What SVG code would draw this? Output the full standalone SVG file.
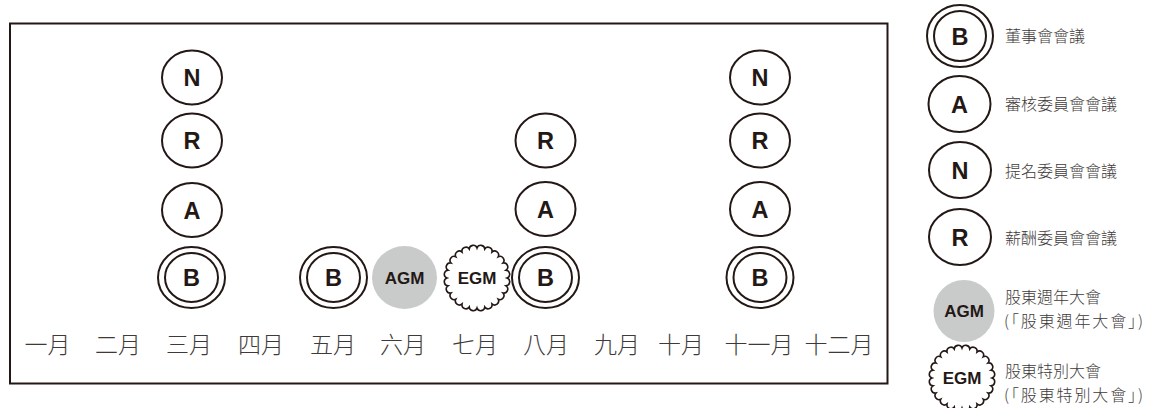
<svg xmlns="http://www.w3.org/2000/svg" xmlns:xlink="http://www.w3.org/1999/xlink" width="1154" height="408" viewBox="0 0 1154 408">
<style>
.c{fill:#fff;stroke:#231815;stroke-width:2}
.agm{fill:#c9caca;stroke:none}
.egm{fill:#fff;stroke:#231815;stroke-width:1.6}
.l{font-family:"Liberation Sans",Arial,sans-serif;font-weight:bold;font-size:23.5px;fill:#231815;text-anchor:middle}
.s{font-family:"Liberation Sans",Arial,sans-serif;font-weight:bold;font-size:17px;fill:#231815;text-anchor:middle}
.m{font-family:"Noto Sans CJK TC","Noto Sans CJK SC",sans-serif;font-weight:300;font-size:23px;fill:#3e3a39;text-anchor:middle}
.t{font-family:"Noto Sans CJK TC","Noto Sans CJK SC",sans-serif;font-weight:300;font-size:16px;fill:#3e3a39}
</style>
<defs>
<path id="scal" d="M30,0 A4,4 0 0 1 28.98,7.76 A4,4 0 0 1 25.98,15 A4,4 0 0 1 21.21,21.21 A4,4 0 0 1 15,25.98 A4,4 0 0 1 7.76,28.98 A4,4 0 0 1 0,30 A4,4 0 0 1 -7.76,28.98 A4,4 0 0 1 -15,25.98 A4,4 0 0 1 -21.21,21.21 A4,4 0 0 1 -25.98,15 A4,4 0 0 1 -28.98,7.76 A4,4 0 0 1 -30,0 A4,4 0 0 1 -28.98,-7.76 A4,4 0 0 1 -25.98,-15 A4,4 0 0 1 -21.21,-21.21 A4,4 0 0 1 -15,-25.98 A4,4 0 0 1 -7.76,-28.98 A4,4 0 0 1 0,-30 A4,4 0 0 1 7.76,-28.98 A4,4 0 0 1 15,-25.98 A4,4 0 0 1 21.21,-21.21 A4,4 0 0 1 25.98,-15 A4,4 0 0 1 28.98,-7.76 A4,4 0 0 1 30,0 Z"/>
</defs>
<rect x="0" y="0" width="1154" height="408" fill="#fff"/>
<rect id="frame" x="10" y="23.5" width="877.5" height="360" fill="none" stroke="#231815" stroke-width="2"/>
<g id="connectors"></g>
<g id="months">
<text class="m" x="47.5" y="353">一月</text>
<text class="m" x="118" y="353">二月</text>
<text class="m" x="189" y="353">三月</text>
<text class="m" x="261" y="353">四月</text>
<text class="m" x="333" y="353">五月</text>
<text class="m" x="403" y="353">六月</text>
<text class="m" x="475" y="353">七月</text>
<text class="m" x="546" y="353">八月</text>
<text class="m" x="617" y="353">九月</text>
<text class="m" x="681" y="353">十月</text>
<text class="m" x="759" y="353">十一月</text>
<text class="m" x="839" y="353">十二月</text>
</g>
<g id="mar-N"><ellipse class="c" cx="192" cy="77.5" rx="30" ry="27"/><text class="l" x="192" y="86">N</text></g>
<g id="mar-R"><ellipse class="c" cx="192" cy="140.5" rx="30" ry="27"/><text class="l" x="192" y="149">R</text></g>
<g id="mar-A"><ellipse class="c" cx="192" cy="210" rx="30" ry="27"/><text class="l" x="192" y="218.5">A</text></g>
<g id="mar-B"><ellipse class="c" cx="191.5" cy="277.5" rx="33.5" ry="30.5"/><ellipse class="c" cx="191.5" cy="277.5" rx="26.5" ry="24.5"/><text class="l" x="191.5" y="286">B</text></g>
<g id="may-B"><ellipse class="c" cx="333.5" cy="277.5" rx="33.5" ry="30.5"/><ellipse class="c" cx="333.5" cy="277.5" rx="26.5" ry="24.5"/><text class="l" x="333.5" y="286">B</text></g>
<g id="jun-AGM"><ellipse class="agm" cx="404.5" cy="277.5" rx="32.5" ry="31.5"/><text class="s" x="404.5" y="283.5">AGM</text></g>
<g id="jul-EGM"><use xlink:href="#scal" class="egm" transform="translate(477,278)"/><text class="s" x="477" y="284">EGM</text></g>
<g id="aug-R"><ellipse class="c" cx="545.5" cy="140.5" rx="30" ry="27"/><text class="l" x="545.5" y="149">R</text></g>
<g id="aug-A"><ellipse class="c" cx="545.5" cy="209" rx="30" ry="27"/><text class="l" x="545.5" y="217.5">A</text></g>
<g id="aug-B"><ellipse class="c" cx="545.5" cy="277.5" rx="33.5" ry="30.5"/><ellipse class="c" cx="545.5" cy="277.5" rx="26.5" ry="24.5"/><text class="l" x="545.5" y="286">B</text></g>
<g id="nov-N"><ellipse class="c" cx="760" cy="77.5" rx="30" ry="27"/><text class="l" x="760" y="86">N</text></g>
<g id="nov-R"><ellipse class="c" cx="760" cy="140.5" rx="30" ry="27"/><text class="l" x="760" y="149">R</text></g>
<g id="nov-A"><ellipse class="c" cx="760" cy="209" rx="30" ry="27"/><text class="l" x="760" y="217.5">A</text></g>
<g id="nov-B"><ellipse class="c" cx="760" cy="277.5" rx="33.5" ry="30.5"/><ellipse class="c" cx="760" cy="277.5" rx="26.5" ry="24.5"/><text class="l" x="760" y="286">B</text></g>
<g id="legend-B"><ellipse class="c" cx="960" cy="36" rx="33" ry="31"/><ellipse class="c" cx="960" cy="36" rx="26" ry="25"/><text class="l" x="960" y="44.5">B</text><text class="t" x="1005" y="42">董事會會議</text></g>
<g id="legend-A"><ellipse class="c" cx="959.5" cy="104" rx="31" ry="28"/><text class="l" x="959.5" y="112.5">A</text><text class="t" x="1005" y="110">審核委員會會議</text></g>
<g id="legend-N"><ellipse class="c" cx="960" cy="170" rx="31" ry="28"/><text class="l" x="960" y="178.5">N</text><text class="t" x="1005" y="177">提名委員會會議</text></g>
<g id="legend-R"><ellipse class="c" cx="960" cy="237" rx="31" ry="28"/><text class="l" x="960" y="245.5">R</text><text class="t" x="1005" y="244">薪酬委員會會議</text></g>
<g id="legend-AGM"><ellipse class="agm" cx="964" cy="311" rx="30.5" ry="31"/><text class="s" x="964" y="317">AGM</text><text class="t" x="1005" y="303">股東週年大會</text><text class="t" x="1004" y="326.5" textLength="139" lengthAdjust="spacing">(「股東週年大會」)</text></g>
<g id="legend-EGM"><use xlink:href="#scal" class="egm" transform="translate(962,378)"/><text class="s" x="962" y="384">EGM</text><text class="t" x="1005" y="377">股東特別大會</text><text class="t" x="1004" y="400.5" textLength="139" lengthAdjust="spacing">(「股東特別大會」)</text></g>
</svg>
